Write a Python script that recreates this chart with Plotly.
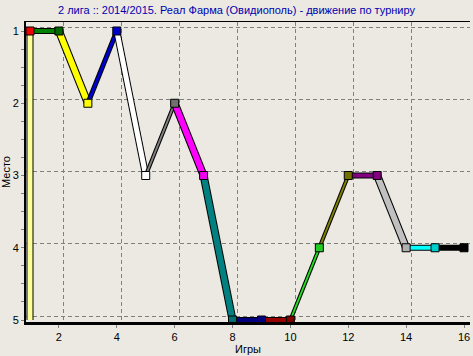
import plotly.graph_objects as go

# ---- data ----
games = list(range(1, 17))
places = [1, 1, 2, 1, 3, 2, 3, 5, 5, 5, 4, 3, 3, 4, 4, 4]
start_place = 5
title_text = "2 лига :: 2014/2015. Реал Фарма (Овидиополь) - движение по турниру"
x_title = "Игры"
y_title = "Место"
x_tickvals = [2, 4, 6, 8, 10, 12, 14, 16]
y_tickvals = [1, 2, 3, 4, 5]

# ---- styles ----
seg_colors = ["#FFFF99", "#008000", "#FFFF00", "#0000CC", "#FFFFFF", "#808080",
              "#FF00FF", "#008080", "#000080", "#990000", "#22DD22", "#808000",
              "#800080", "#C0C0C0", "#00FFFF", "#000000"]
marker_colors = ["#EE0000", "#006600", "#FFFF00", "#0000CC", "#FFFFFF", "#707070",
                 "#EE00EE", "#007070", "#000080", "#800000", "#22CC22", "#707000",
                 "#800080", "#B0B0B0", "#00CCCC", "#000000"]
seg_widths = [5, 4, 6, 3, 5, 2, 6, 6, 4, 4, 2, 2, 4, 6, 4, 4]
BG = "#ECE9E2"

W, H = 473, 356
ML, MR, MT, MB = 26, 3, 22, 34
PW, PH = W - ML - MR, H - MT - MB
SX = 434 / 15.0          # px per game
SY = 289 / 4.0           # px per place
x0 = 1 - 4 / SX
x1 = x0 + PW / SX
ytop = 1 - 9 / SY
ybot = ytop + PH / SY
DX, DY = 5 / SX, 4 / SY  # 3D depth offset of the back wall

fig = go.Figure()

# invisible trace to activate the back-wall axes
fig.add_trace(go.Scatter(x=[games[0]], y=[places[0]], mode="markers", xaxis="x", yaxis="y",
                         marker=dict(opacity=0), hoverinfo="skip", showlegend=False))

# ribbons
xs_prev = [games[0]] + games[:-1]
ys_prev = [start_place] + places[:-1]
for i in range(len(games)):
    xx = [xs_prev[i], games[i]]
    yy = [ys_prev[i], places[i]]
    fig.add_trace(go.Scatter(x=xx, y=yy, mode="lines", xaxis="x2", yaxis="y2",
                             line=dict(color="black", width=seg_widths[i] + 2),
                             hoverinfo="skip", showlegend=False))
    fig.add_trace(go.Scatter(x=xx, y=yy, mode="lines", xaxis="x2", yaxis="y2",
                             line=dict(color=seg_colors[i], width=seg_widths[i]),
                             hoverinfo="skip", showlegend=False))

# cubes
fig.add_trace(go.Scatter(
    x=games, y=places, mode="markers", xaxis="x2", yaxis="y2",
    marker=dict(symbol="square", size=8, color=marker_colors,
                line=dict(color="black", width=1)),
    hoverinfo="skip", showlegend=False))

font = dict(family="Arial", size=11, color="black")

fig.update_layout(
    width=W, height=H,
    margin=dict(l=ML, r=MR, t=MT, b=MB),
    paper_bgcolor=BG, plot_bgcolor=BG,
    font=font,
    showlegend=False,
    title=dict(text=title_text, x=0.5, xref="container", xanchor="center",
               y=1 - 10 / H, yref="container", yanchor="middle",
               font=dict(family="Arial", size=11, color="#0000B0")),
    # back wall axes (gridlines)
    xaxis=dict(range=[x0 - DX, x1 - DX], tickvals=x_tickvals, showticklabels=False,
               ticks="", showgrid=True, gridcolor="#808080", griddash="4px,3px",
               gridwidth=1, zeroline=False, showline=True, side="top",
               linecolor="black", linewidth=1),
    yaxis=dict(range=[ybot + DY, ytop + DY], tickvals=y_tickvals, showticklabels=False,
               ticks="", showgrid=True, gridcolor="#808080", griddash="4px,3px",
               gridwidth=1, zeroline=False, showline=False),
    # front axes
    xaxis2=dict(range=[x0, x1], overlaying="x", anchor="y2", side="bottom",
                tickvals=x_tickvals, ticks="outside", ticklen=3, tickcolor="#808080",
                showgrid=False, zeroline=False, showline=True, linecolor="black",
                linewidth=3, tickfont=font,
                title=dict(text=x_title, font=font, standoff=2)),
    yaxis2=dict(range=[ybot, ytop], overlaying="y", anchor="x2", side="left",
                tickvals=y_tickvals, ticks="outside", ticklen=3, tickcolor="#808080",
                minor=dict(dtick=0.25, ticks="outside", ticklen=3, tickcolor="#808080",
                           showgrid=False),
                showgrid=False, zeroline=False, showline=True, linecolor="black",
                linewidth=2, tickfont=font,
                title=dict(text=y_title, font=font, standoff=3)),
)

fig.write_html("out.html")
